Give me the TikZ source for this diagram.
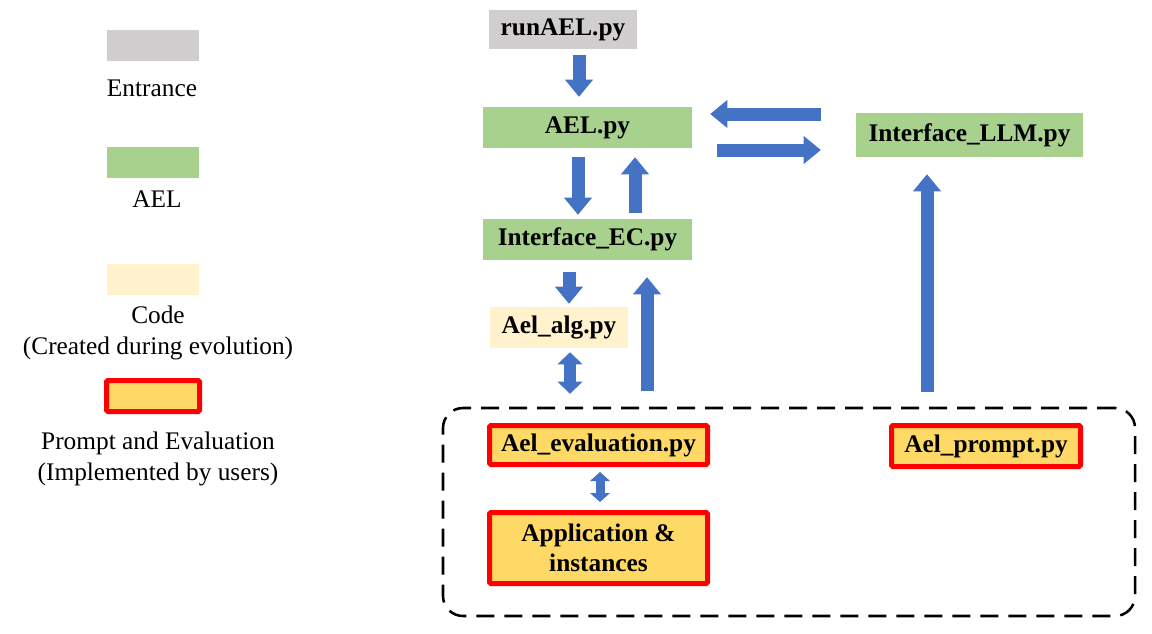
\documentclass[tikz,border=0pt]{standalone}
\usepackage{fontspec}
\setmainfont{Liberation Serif}
\usetikzlibrary{arrows.meta,calc}

\definecolor{entrancegray}{RGB}{208,206,206}
\definecolor{aelgreen}{RGB}{169,209,142}
\definecolor{codecream}{RGB}{255,242,204}
\definecolor{useryellow}{RGB}{255,217,102}
\definecolor{userred}{RGB}{255,0,0}
\definecolor{arrowblue}{RGB}{68,114,196}

\tikzset{
  filebox/.style={inner sep=0pt, align=center, font=\fontsize{19}{22.5}\selectfont\bfseries},
  legendtext/.style={inner sep=0pt, align=center, font=\fontsize{19}{23.25}\selectfont},
  userbox/.style={filebox, fill=useryellow, draw=userred, line width=3.75pt, rounded corners=1pt},
  flow/.style={draw=arrowblue, line width=9.75pt, -{Triangle[length=12.75pt, width=21pt, line width=0pt]}},
  twoway/.style={draw=arrowblue, line width=9pt, {Triangle[length=9pt, width=18.75pt, line width=0pt]}-{Triangle[length=9pt, width=18.75pt, line width=0pt]}},
}

\begin{document}
\begin{tikzpicture}[x=0.75pt,y=0.75pt,yscale=-1,xscale=1]
\useasboundingbox (0,0) rectangle (1152,633);

% Legend
\node[fill=entrancegray, minimum width=69pt, minimum height=23.25pt] (keyentrance) at (153,45.5) {};
\node[legendtext] (txtentrance) at (152,88) {Entrance};
\node[fill=aelgreen, minimum width=69pt, minimum height=23.25pt] (keyael) at (153,162.5) {};
\node[legendtext] (txtael) at (157,199) {AEL};
\node[fill=codecream, minimum width=69pt, minimum height=23.25pt] (keycode) at (153,279.5) {};
\node[legendtext] (txtcode) at (158,332.5) {Code\\(Created during evolution)};
\node[userbox, minimum width=69.75pt, minimum height=23.25pt] (keyuser) at (153,396) {};
\node[legendtext] (txtuser) at (158,458.5) {Prompt and Evaluation\\(Implemented by users)};

% User part
\node[draw, line width=1.9pt, dash pattern=on 13.5pt off 7.5pt, rounded corners=15pt,
      minimum width=519pt, minimum height=156pt] (users) at (789,512) {};

% Files
\node[filebox, fill=entrancegray, minimum width=111pt, minimum height=29.25pt] (run) at (563,29.5) {runAEL.py};
\node[filebox, fill=aelgreen, minimum width=156.75pt, minimum height=30.75pt] (ael) at (587.5,127.5) {AEL.py};
\node[filebox, fill=aelgreen, minimum width=156.75pt, minimum height=30.75pt] (ec) at (587.5,239.5) {Interface\_EC.py};
\node[filebox, fill=codecream, minimum width=103.5pt, minimum height=30.75pt] (alg) at (559,327.5) {Ael\_alg.py};
\node[filebox, fill=aelgreen, minimum width=170.25pt, minimum height=33pt] (llm) at (969.5,135) {Interface\_LLM.py};
\node[userbox, minimum width=163.5pt, minimum height=29.25pt] (eval) at (598.5,445) {Ael\_evaluation.py};
\node[userbox, minimum width=163.5pt, minimum height=53.25pt] (app) at (598.5,548) {Application \&\\instances};
\node[userbox, minimum width=141.75pt, minimum height=30.75pt] (prompt) at (986,446) {Ael\_prompt.py};

% Block arrows
\draw[flow] ($(run.south)+(16,6)$) -- ($(ael.north)+(-8.5,-10)$);
\draw[flow] ($(ael.south)+(-9.5,9)$) -- ($(ec.north)+(-9.5,-4)$);
\draw[flow] ($(ec.north)+(47.5,-6)$) -- ($(ael.south)+(47.5,9)$);
\draw[flow] ($(ec.south)+(-18.5,12)$) -- ($(alg.north)+(10,-3)$);
\draw[twoway] ($(alg.south)+(11,4)$) -- ($(alg.south |- users.north)+(11,-13)$);
\draw[flow] ($(ec.south |- users.north)+(59.5,-16)$) -- ($(ec.south)+(59.5,17)$);
\draw[flow] ($(llm.south |- users.north)+(-42.5,-15)$) -- ($(llm.south)+(-42.5,17)$);
\draw[flow] ($(llm.west)+(-35,-21)$) -- ($(ael.east)+(18,-13.5)$);
\draw[flow] ($(ael.east)+(25,22.5)$) -- ($(llm.west)+(-35,15)$);
\draw[twoway, line width=6.75pt, {Triangle[length=6.75pt, width=15pt, line width=0pt]}-{Triangle[length=6.75pt, width=15pt, line width=0pt]}]
  ($(eval.south)+(1.5,5)$) -- ($(app.north)+(1.5,-8)$);
\end{tikzpicture}
\end{document}
